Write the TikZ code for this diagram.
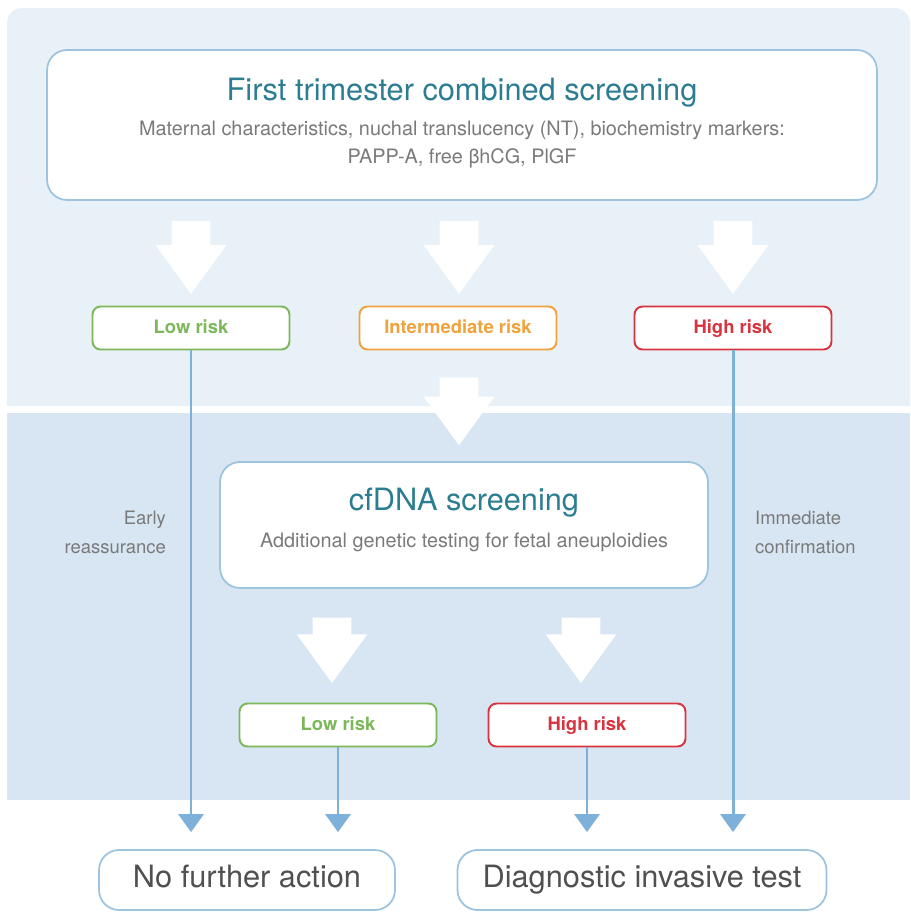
\documentclass[tikz,border=0pt]{standalone}
\usepackage{fontspec}
\setmainfont{TeX Gyre Heros}
\usetikzlibrary{shapes.arrows,arrows.meta}
\definecolor{panelup}{HTML}{E9F1F8}
\definecolor{paneldown}{HTML}{D7E6F2}
\definecolor{boxline}{HTML}{9DC3DE}
\definecolor{flowline}{HTML}{7DB1DA}
\definecolor{titleteal}{HTML}{2C7D91}
\definecolor{subgrey}{HTML}{7A7A7A}
\definecolor{endgrey}{HTML}{505050}
\definecolor{riskgreen}{HTML}{7CB85A}
\definecolor{riskorange}{HTML}{F0A33C}
\definecolor{riskred}{HTML}{D8333F}
\begin{document}
\begin{tikzpicture}[x=0.02cm,y=-0.02cm]
		\tikzstyle{bigbox}=[draw=boxline, line width=1pt, fill=white, rounded corners=0.4cm, shape=rectangle];
		\tikzstyle{risk}=[fill=white, rounded corners=0.16cm, line width=1.1pt, minimum width=3.94cm, minimum height=0.86cm, text height=1.6ex, text depth=0.4ex, font=\fontsize{10.5}{12}\selectfont\bfseries];
		\tikzstyle{bigarrow}=[single arrow, shape border rotate=270, fill=white, single arrow head extend=0.32cm, single arrow tip angle=72, inner sep=0.38cm];
		\tikzstyle{flow}=[draw=flowline, line width=1.7pt, shorten >=0.34cm, -{Triangle[width=0.5cm,length=0.36cm]}];
		\tikzstyle{heading}=[text=titleteal, font=\fontsize{17.5}{20}\selectfont];
		\tikzstyle{sub}=[text=subgrey, font=\fontsize{11.3}{13}\selectfont];
		\tikzstyle{side}=[text=subgrey, font=\fontsize{10.5}{16.4}\selectfont];
		\tikzstyle{outcome}=[text=endgrey, text height=1.8ex, text depth=0.2ex, font=\fontsize{17.5}{20}\selectfont];

		\useasboundingbox (0,0) rectangle (910,913);
		\fill[panelup, rounded corners=0.3cm] (7,8) -- (910,8) [sharp corners] -- (910,406) -- (7,406) [rounded corners=0.3cm] -- cycle;
		\fill[paneldown] (7,413) rectangle (910,800);

		\node[bigbox, minimum width=16.6cm, minimum height=3cm] (first) at (462,125) {};
		\node[heading] (firsttitle) at (462,93) {First trimester combined screening};
		\node[sub] (firstsub) at (462,130) {Maternal characteristics, nuchal translucency (NT), biochemistry markers:};
		\node[sub] (firstsub2) at (462,158) {PAPP-A, free βhCG, PlGF};

		\node[bigarrow, minimum height=1.46cm] (a1) at (191,244) {};
		\node[bigarrow, minimum height=1.46cm] (a2) at (459,244) {};
		\node[bigarrow, minimum height=1.46cm] (a3) at (733,244) {};

		\node[risk, draw=riskgreen, text=riskgreen] (low1) at (191,328) {Low risk};
		\node[risk, draw=riskorange, text=riskorange] (mid1) at (458,328) {Intermediate risk};
		\node[risk, draw=riskred, text=riskred] (high1) at (733,328) {High risk};

		\node[bigarrow, minimum height=1.36cm] (a4) at (459,398) {};

		\node[bigbox, minimum width=9.76cm, minimum height=2.52cm] (cfdna) at (464,525) {};
		\node[heading] (cfdnatitle) at (464,503) {cfDNA screening};
		\node[sub] (cfdnasub) at (464,542) {Additional genetic testing for fetal aneuploidies};

		\node[side, align=right, anchor=east] (early) at (172,532) {Early\\reassurance};
		\node[side, align=left, anchor=west] (immediate) at (749,532) {Immediate\\confirmation};

		\node[bigarrow, minimum height=1.24cm] (a5) at (332,637) {};
		\node[bigarrow, minimum height=1.24cm] (a6) at (581,637) {};

		\node[risk, draw=riskgreen, text=riskgreen] (low2) at (338,725) {Low risk};
		\node[risk, draw=riskred, text=riskred] (high2) at (587,725) {High risk};

		\node[bigbox, outcome, minimum width=5.92cm, minimum height=1.2cm] (nfa) at (247,880) {No further action};
		\node[bigbox, outcome, minimum width=7.38cm, minimum height=1.2cm] (dit) at (642,880) {Diagnostic invasive test};

		\draw[flow] (low1) to (low1 |- nfa.north);
		\draw[flow] (low2) to (low2 |- nfa.north);
		\draw[flow] (high2) to (high2 |- dit.north);
		\draw[flow] (high1) to (high1 |- dit.north);
\end{tikzpicture}
\end{document}
